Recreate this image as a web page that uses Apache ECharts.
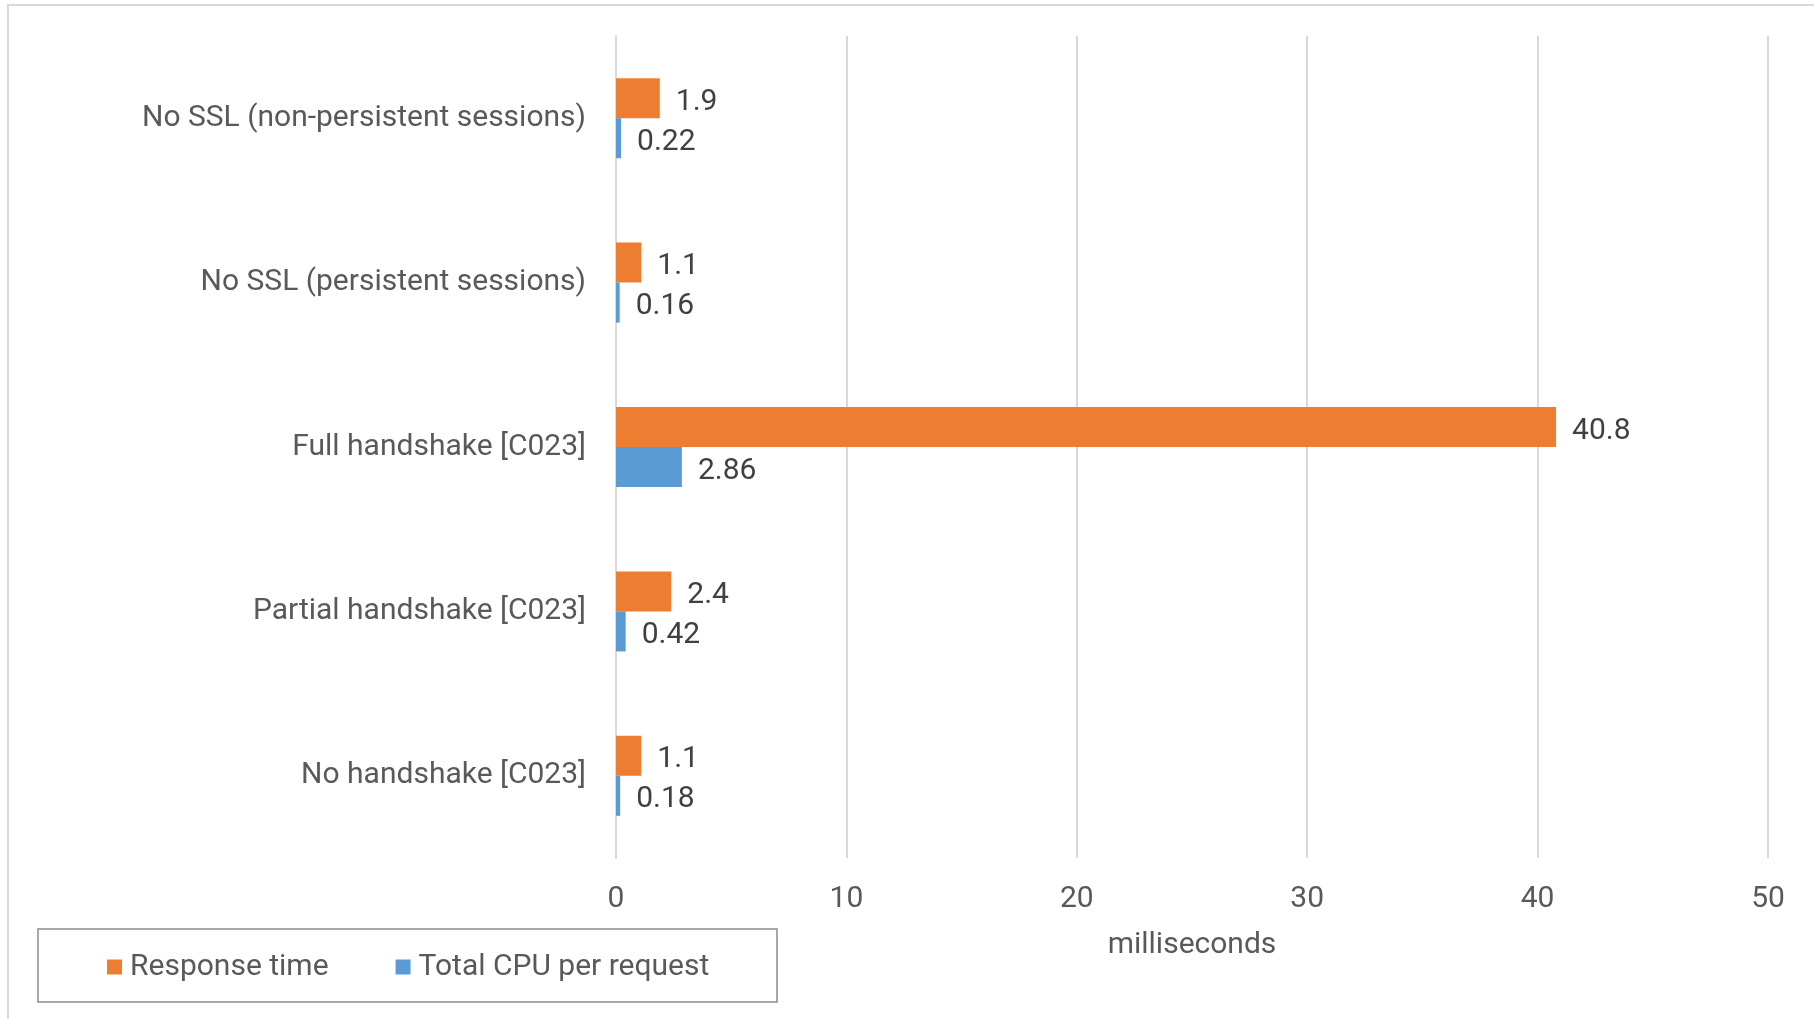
<!DOCTYPE html>
<html>
<head>
<meta charset="utf-8">
<title>SSL handshake cost</title>
<script src="https://cdn.jsdelivr.net/npm/echarts@6/dist/echarts.min.js"></script>
<style>
  html, body { margin: 0; padding: 0; background: #ffffff; }
  #chart { width: 1814px; height: 1019px; }
</style>
</head>
<body>
<div id="chart"></div>
<script>
// Scenarios, top to bottom
const categories = [
  'No SSL (non-persistent sessions)',
  'No SSL (persistent sessions)',
  'Full handshake [C023]',
  'Partial handshake [C023]',
  'No handshake [C023]'
];
// Milliseconds per request
const responseTime = [1.9, 1.1, 40.8, 2.4, 1.1];
const cpuPerRequest = [0.22, 0.16, 2.86, 0.42, 0.18];
const xTicks = { min: 0, max: 50, interval: 10 };

const FONT = 'Roboto, "Noto Sans", sans-serif';
const FS = 30;

const chart = echarts.init(document.getElementById('chart'), null, { renderer: 'canvas' });

const valueLabel = {
  show: true,
  position: 'right',
  distance: 16,
  offset: [0, 4],
  fontFamily: FONT,
  fontSize: FS,
  color: '#404040'
};

chart.setOption({
  animation: false,
  backgroundColor: '#ffffff',
  textStyle: { fontFamily: FONT },
  graphic: [
    {
      type: 'rect',
      shape: { x: 8, y: 5, width: 1830, height: 1040 },
      style: { fill: 'none', stroke: '#d9d9d9', lineWidth: 2 },
      silent: true
    },
    {
      type: 'rect',
      shape: { x: 38, y: 929, width: 739, height: 73 },
      style: { fill: 'none', stroke: '#8c8c8c', lineWidth: 1.5 },
      silent: true
    }
  ],
  legend: {
    left: 107,
    top: 952,
    padding: 0,
    itemWidth: 15,
    itemHeight: 15,
    itemGap: 67,
    icon: 'rect',
    textStyle: { fontFamily: FONT, fontSize: FS, color: '#595959', lineHeight: 30, padding: [0, 0, 0, 3] },
    data: ['Response time', 'Total CPU per request']
  },
  grid: { left: 616, right: 46, top: 36, bottom: 161, containLabel: false },
  xAxis: {
    type: 'value',
    min: xTicks.min,
    max: xTicks.max,
    interval: xTicks.interval,
    name: 'milliseconds',
    nameLocation: 'middle',
    nameGap: 72,
    nameTextStyle: { fontFamily: FONT, fontSize: FS, color: '#595959' },
    axisLine: { show: false },
    axisTick: { show: false },
    axisLabel: { fontFamily: FONT, fontSize: FS, color: '#595959', margin: 26 },
    splitLine: { show: true, lineStyle: { color: '#d9d9d9', width: 2 } }
  },
  yAxis: {
    type: 'category',
    inverse: true,
    data: categories,
    axisLine: { show: true, lineStyle: { color: '#d9d9d9', width: 2 } },
    axisTick: { show: false },
    axisLabel: { fontFamily: FONT, fontSize: FS, color: '#595959', margin: 30, padding: [5, 0, 0, 0] }
  },
  series: [
    {
      name: 'Response time',
      type: 'bar',
      data: responseTime,
      barWidth: 40,
      barGap: '0%',
      itemStyle: { color: '#ED7D31' },
      label: valueLabel
    },
    {
      name: 'Total CPU per request',
      type: 'bar',
      data: cpuPerRequest,
      barWidth: 40,
      barGap: '0%',
      itemStyle: { color: '#5B9BD5' },
      label: valueLabel
    }
  ]
});
</script>
</body>
</html>
